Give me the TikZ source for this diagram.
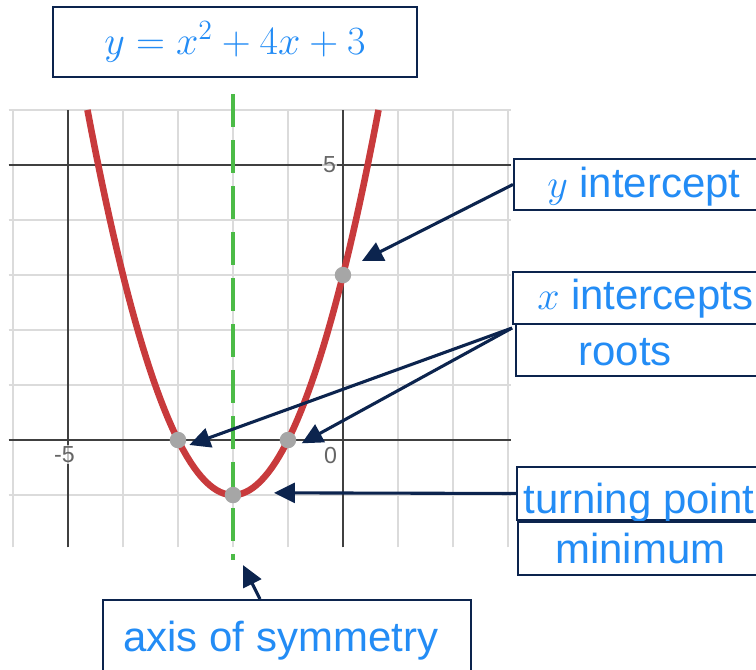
\documentclass[tikz,border=0pt]{standalone}
\usepackage{fontspec}
\setmainfont{Liberation Sans}
\usetikzlibrary{arrows.meta}
\definecolor{navy}{RGB}{12,36,78}
\definecolor{txtblue}{RGB}{35,140,245}
\definecolor{curvered}{RGB}{200,58,60}
\definecolor{axisgreen}{RGB}{76,187,71}
\begin{document}
\begin{tikzpicture}[
  box/.style={draw=navy,line width=1pt,inner sep=0pt,anchor=north west},
  lbl/.style={text=txtblue,font=\fontsize{21.7}{26}\selectfont,anchor=base west,inner sep=0pt},
  tick/.style={text=black!60,font=\fontsize{12}{14}\selectfont,fill=white,fill opacity=0.7,text opacity=1,inner sep=0.5pt},
  pointer/.style={navy,line width=1.6pt,-{Triangle[length=0.38cm,width=0.36cm]}},
  dot/.style={circle,fill=gray!70,inner sep=0pt,minimum size=0.3cm}]
  \useasboundingbox (-6.236,-4.164) rectangle (7.509,8.0);
  \draw[gray!28,line width=0.8pt] (-6.08,-1.95) grid (3.05,6);
  \draw[black!75,line width=0.8pt] (-5,-1.95)--(-5,6) (0,-1.95)--(0,6) (-6.08,0)--(3.05,0) (-6.08,5)--(3.05,5);
  \node[tick] (t5) at (-0.245,5.01) {5};
  \node[tick] (tm5) at (-5.064,-0.264) {-5};
  \node[tick] (t0) at (-0.227,-0.282) {0};
  \draw[axisgreen,line width=2pt,dash pattern=on 0.6cm off 0.236cm] (-2,6.29)--(-2,-2.18);
  \draw[curvered,line width=3.4pt,domain=-4.646:0.646,samples=80] plot (\x,{\x*\x+4*\x+3});
  \node[dot] (r1) at (-3,0) {};
  \node[dot] (r2) at (-1,0) {};
  \node[dot] (yi) at (0,3) {};
  \node[dot] (tp) at (-2,-1) {};
  \node[box,anchor=center,minimum width=6.618cm,minimum height=1.273cm] (eqn) at (-1.964,7.236) {\color{txtblue}\fontsize{22}{26}\selectfont$y=x^2+4x+3$};
  \node[box,minimum width=4.9cm,minimum height=0.927cm] (yint) at (3.09,5.127) {};
  \node[lbl] (yinttxt) at (3.709,4.418) {$y$ intercept};
  \node[box,minimum width=4.9cm,minimum height=0.946cm] (xint) at (3.073,3.073) {};
  \node[lbl] (xinttxt) at (3.527,2.364) {$x$ intercepts};
  \node[box,minimum width=4.9cm,minimum height=0.945cm] (roots) at (3.127,2.127) {};
  \node[lbl] (rootstxt) at (4.273,1.364) {roots};
  \node[box,minimum width=4.9cm,minimum height=0.963cm] (turn) at (3.145,-0.473) {};
  \node[lbl] (turntxt) at (3.273,-1.327) {turning point};
  \node[box,minimum width=4.9cm,minimum height=0.963cm] (mini) at (3.164,-1.473) {};
  \node[lbl] (minitxt) at (3.855,-2.236) {minimum};
  \node[box,minimum width=6.691cm,minimum height=1.6cm] (axis) at (-4.382,-2.891) {};
  \node[lbl] (axistxt) at (-4.0,-3.836) {axis of symmetry};
  \coordinate (yitip) at (0.345,3.255);
  \coordinate (xsrc) at (3.073,2.036);
  \coordinate (r1tip) at (-2.794,-0.09);
  \coordinate (r2tip) at (-0.75,-0.06);
  \coordinate (tptip) at (-1.255,-0.96);
  \coordinate (axtip) at (-1.818,-2.273);
  \draw[pointer] (yint.west) -- (yitip);
  \draw[pointer] (xsrc) -- (r1tip);
  \draw[pointer] (xsrc) -- (r2tip);
  \draw[pointer] (turn.west) -- (tptip);
  \draw[pointer] ([xshift=-0.49cm]axis.north) -- (axtip);
\end{tikzpicture}
\end{document}
